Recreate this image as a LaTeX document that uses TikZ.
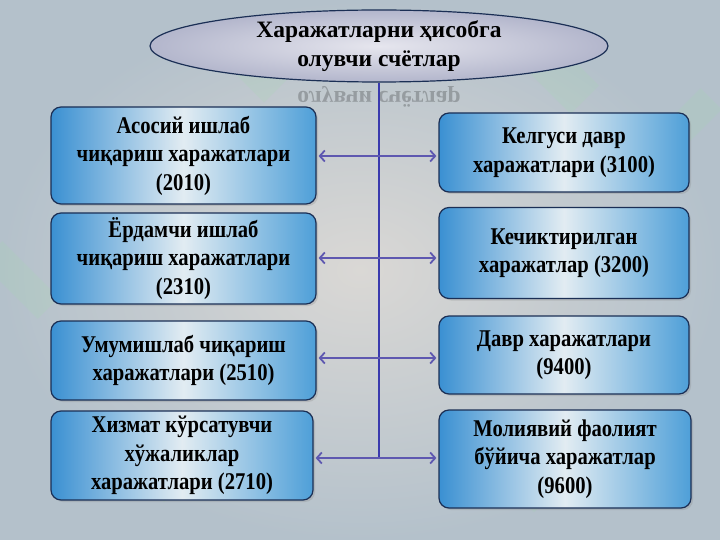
\documentclass[tikz,border=0pt]{standalone}
\usepackage{fontspec}
\setmainfont{Liberation Serif}
\newfontfamily\condfont{Liberation Serif}[FakeStretch=0.86]
\usetikzlibrary{arrows.meta,shapes.geometric,shadows}
\definecolor{bgout}{HTML}{B4C1CB}
\definecolor{bgin}{HTML}{DAD8D5}
\definecolor{boxL}{HTML}{3A90D2}
\definecolor{boxM}{HTML}{E2ECF2}
\definecolor{boxR}{HTML}{4E9FD8}
\definecolor{boxedge}{HTML}{1B2F55}
\definecolor{ellin}{HTML}{E6E6EE}
\definecolor{ellout}{HTML}{B3B6CC}
\definecolor{vline}{HTML}{3A3AAE}
\definecolor{arr}{HTML}{5E58B0}
\definecolor{wm}{HTML}{9FE0A8}
\tikzset{
  cbox/.style={draw=boxedge, line width=1.2pt, rounded corners=10pt,
    left color=boxL, right color=boxR, middle color=boxM,
    align=center, inner sep=2pt, font=\condfont\bfseries\fontsize{24}{28.5}\selectfont,
    drop shadow={opacity=0.25, shadow xshift=2pt, shadow yshift=-2pt}},
  link/.style={draw=arr, line width=1.8pt, {Straight Barb[length=5pt,width=11pt]}-{Straight Barb[length=5pt,width=11pt]}},
}
\begin{document}
\begin{tikzpicture}[x=1pt,y=-1pt]
\useasboundingbox (0,0) rectangle (720,540);
\shade[inner color=bgin, outer color=bgout] (0,0) rectangle (720,540);
% faint watermark shapes
\begin{scope}[opacity=0.15]
\fill[wm, rotate around={45:(250,60)}] (230,20) rectangle (270,100);
\fill[wm, rotate around={45:(560,75)}] (540,40) rectangle (580,110);
\fill[wm, rotate around={-45:(690,120)}] (675,90) rectangle (705,150);
\fill[wm, rotate around={45:(150,460)}] (130,420) rectangle (170,500);
\fill[wm, rotate around={45:(520,470)}] (500,430) rectangle (540,510);
\fill[wm, rotate around={45:(20,280)}] (5,240) rectangle (35,320);
\end{scope}
% central ellipse
\node[ellipse, draw=boxedge, line width=1.2pt, inner color=ellin, outer color=ellout,
  minimum width=458, minimum height=72, inner sep=0pt, align=center,
  font=\bfseries\fontsize{23.5}{29}\selectfont] (E) at (379,46)
  {Харажатларни ҳисобга\\олувчи счётлар};
% reflection
\node[yscale=-1, transform shape, opacity=0.22, text=black,
  font=\bfseries\fontsize{23.5}{29}\selectfont] (Ref) at (379,97) {олувчи счётлар};
% left boxes
\node[cbox, minimum width=265, minimum height=97] (L1) at (183.5,155.5)
  {Асосий ишлаб\\чиқариш харажатлари\\(2010)};
\node[cbox, minimum width=265, minimum height=91] (L2) at (183.5,258.5)
  {Ёрдамчи ишлаб\\чиқариш харажатлари\\(2310)};
\node[cbox, minimum width=265, minimum height=79] (L3) at (183.5,360.5)
  {Умумишлаб чиқариш\\харажатлари (2510)};
\node[cbox, minimum width=262, minimum height=89] (L4) at (182,455.5)
  {Хизмат кўрсатувчи\\хўжаликлар\\харажатлари (2710)};
% right boxes
\node[cbox, minimum width=250, minimum height=79] (R1) at (564,152.5)
  {Келгуси давр\\харажатлари (3100)};
\node[cbox, minimum width=250, minimum height=91] (R2) at (564,253)
  {Кечиктирилган\\харажатлар (3200)};
\node[cbox, minimum width=250, minimum height=78] (R3) at (564,355)
  {Давр харажатлари\\(9400)};
\node[cbox, minimum width=252, minimum height=98] (R4) at (565,459)
  {Молиявий фаолият\\бўйича харажатлар\\(9600)};
% connectors
\coordinate (B) at (E.south |- 0,458);
\draw[vline, line width=2pt] (E.south) -- (B);
\draw[link] ([xshift=2pt]L1.east |- 0,156) -- ([xshift=-2pt]R1.west |- 0,156);
\draw[link] ([xshift=2pt]L2.east |- 0,258) -- ([xshift=-2pt]R2.west |- 0,258);
\draw[link] ([xshift=2pt]L3.east |- 0,358) -- ([xshift=-2pt]R3.west |- 0,358);
\draw[link] ([xshift=2pt]L4.east |- 0,458) -- ([xshift=-2pt]R4.west |- 0,458);
\end{tikzpicture}
\end{document}
